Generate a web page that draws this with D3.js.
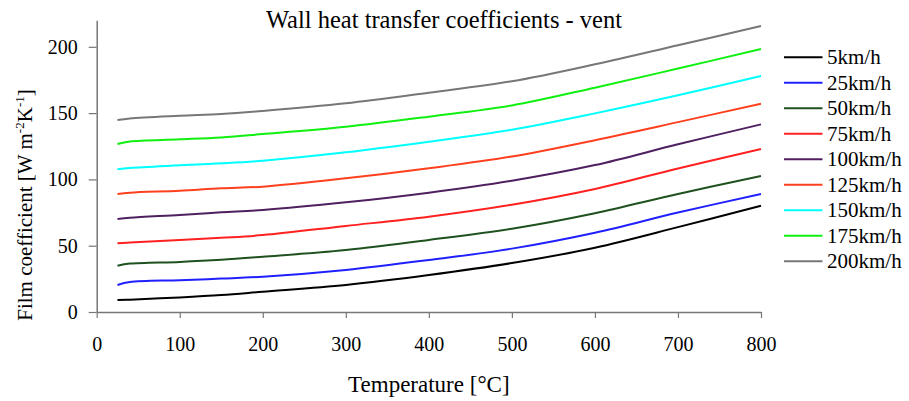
<!DOCTYPE html>
<html>
<head>
<meta charset="utf-8">
<script src="https://cdn.jsdelivr.net/npm/d3@7"></script>
<style>
  html, body { margin: 0; padding: 0; background: #fff; }
  svg { display: block; }
  text { font-family: "Liberation Serif", "Times New Roman", serif; fill: #000; }
</style>
</head>
<body>
<svg id="chart" width="909" height="401"></svg>
<script>
// ---- data ----
const temperatures = [25, 40, 100, 150, 200, 300, 400, 500, 600, 700, 800];
const seriesNames = ["5km/h", "25km/h", "50km/h", "75km/h", "100km/h", "125km/h", "150km/h", "175km/h", "200km/h"];
const v5   = [9.0, 9.3, 11.0, 12.8, 15.3, 20.4, 27.9, 36.9, 48.5, 64.0, 80.2];
const v25  = [20.4, 22.6, 24.0, 25.2, 26.6, 31.7, 39.2, 47.8, 59.8, 75.0, 89.0];
const v50  = [34.9, 36.5, 37.8, 39.4, 41.7, 46.8, 54.3, 62.8, 74.5, 89.0, 102.6];
const v75  = [51.8, 52.4, 54.3, 56.0, 58.0, 64.9, 71.9, 80.9, 92.8, 108.3, 122.9];
const v100 = [70.1, 71.0, 73.2, 75.2, 76.9, 82.7, 90.0, 99.0, 110.8, 126.5, 141.5];
const v125 = [89.0, 90.0, 91.5, 93.3, 94.5, 100.8, 108.4, 117.3, 129.6, 143.2, 157.1];
const v150 = [107.6, 108.6, 110.6, 112.1, 114.1, 120.4, 128.4, 137.5, 149.8, 163.4, 178.0];
const v175 = [126.7, 128.6, 130.2, 131.7, 134.2, 139.7, 147.3, 155.8, 169.2, 183.6, 198.3];
const v200 = [144.8, 146.0, 148.0, 149.3, 151.6, 157.4, 165.4, 174.0, 186.8, 201.2, 215.7];
const seriesValues = [v5, v25, v50, v75, v100, v125, v150, v175, v200];
const seriesColors = ["#000000", "#2020ff", "#1f511f", "#ff2020", "#4f2060", "#ff401f", "#00ffff", "#10f010", "#777777"];
const xTicks = [0, 100, 200, 300, 400, 500, 600, 700, 800];
const yTicks = [0, 50, 100, 150, 200];
const titleText = "Wall heat transfer coefficients - vent";
const xTitle = "Temperature [°C]";

// ---- layout ----
const svg = d3.select("#chart");
const x = d3.scaleLinear().domain([0, 800]).range([96.7, 761]);
const y = d3.scaleLinear().domain([0, 220]).range([312, 20.3]);
const axisColor = "#777";

// axes
const gx = svg.append("g").attr("transform", `translate(0,${y(0)})`)
  .call(d3.axisBottom(x).tickValues(xTicks).tickSize(6).tickPadding(19).tickSizeOuter(0));
const gy = svg.append("g").attr("transform", `translate(${x(0)},0)`)
  .call(d3.axisLeft(y).tickValues(yTicks).tickSize(8).tickPadding(11).tickSizeOuter(0));
[gx, gy].forEach(g => {
  g.select(".domain").attr("stroke", axisColor).attr("stroke-width", 1.5);
  g.selectAll(".tick line").attr("stroke", axisColor).attr("stroke-width", 1.2);
  g.selectAll(".tick text").attr("font-family", "Liberation Serif").attr("font-size", "20px").attr("fill", "#000");
});

// lines
const line = d3.line().x(d => x(d[0])).y(d => y(d[1])).curve(d3.curveCatmullRom.alpha(0.5));
seriesValues.forEach((vals, i) => {
  svg.append("path")
    .datum(temperatures.map((t, j) => [t, vals[j]]))
    .attr("fill", "none")
    .attr("stroke", seriesColors[i])
    .attr("stroke-width", 2)
    .attr("d", line);
});

// title
svg.append("text").attr("x", 444).attr("y", 28).attr("text-anchor", "middle")
  .attr("font-size", "24.5px").text(titleText);

// x title
svg.append("text").attr("x", (x(0) + x(800)) / 2).attr("y", 392).attr("text-anchor", "middle")
  .attr("font-size", "23px").text(xTitle);

// y title
const yt = svg.append("text").attr("transform", "translate(32,205) rotate(-90)")
  .attr("text-anchor", "middle").attr("font-size", "21px");
yt.append("tspan").text("Film coefficient [W m");
yt.append("tspan").attr("font-size", "13px").attr("dy", -8).text("-2");
yt.append("tspan").attr("dy", 8).text("K");
yt.append("tspan").attr("font-size", "13px").attr("dy", -8).text("-1");
yt.append("tspan").attr("dy", 8).text("]");

// legend
const legendY0 = 57.3, legendStep = 25.5;
seriesNames.forEach((name, i) => {
  const ly = legendY0 + i * legendStep;
  svg.append("line").attr("x1", 784).attr("x2", 822.5).attr("y1", ly).attr("y2", ly)
    .attr("stroke", seriesColors[i]).attr("stroke-width", 2);
  svg.append("text").attr("x", 827).attr("y", ly + 7).attr("font-size", "21px").text(name);
});
</script>
</body>
</html>
